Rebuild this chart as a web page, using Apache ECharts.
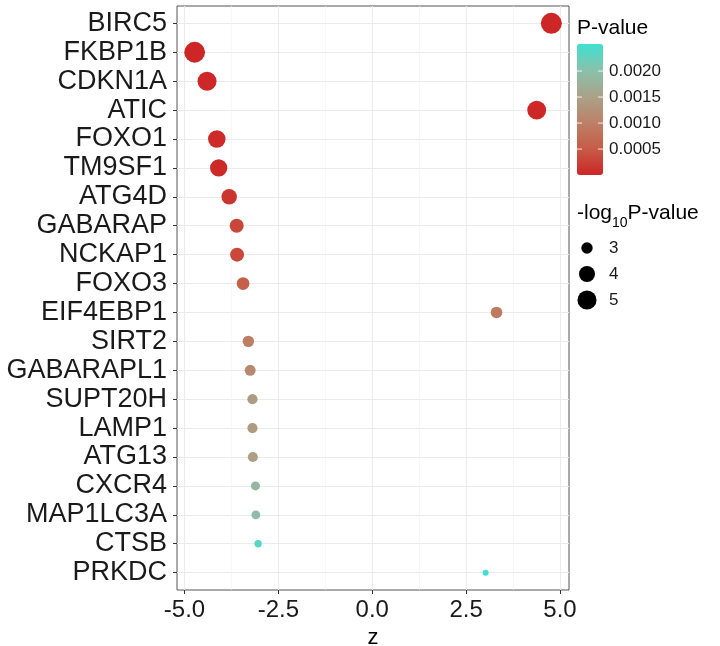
<!DOCTYPE html>
<html>
<head>
<meta charset="utf-8">
<script src="https://cdn.jsdelivr.net/npm/echarts@6/dist/echarts.min.js"></script>
<style>html,body{margin:0;padding:0;background:#fff}#c{width:720px;height:646px}</style>
</head>
<body>
<div id="c"></div>
<script>
const genes = ['BIRC5','FKBP1B','CDKN1A','ATIC','FOXO1','TM9SF1','ATG4D','GABARAP','NCKAP1','FOXO3','EIF4EBP1','SIRT2','GABARAPL1','SUPT20H','LAMP1','ATG13','CXCR4','MAP1LC3A','CTSB','PRKDC'];
const zScores = [4.77,-4.73,-4.40,4.38,-4.14,-4.09,-3.81,-3.61,-3.60,-3.44,3.31,-3.30,-3.25,-3.19,-3.19,-3.18,-3.11,-3.10,-3.04,3.02];
const pValues = [1.8e-6,2.2e-6,1.1e-5,1.2e-5,3.5e-5,4.3e-5,1.4e-4,3.1e-4,3.2e-4,5.8e-4,9.3e-4,9.7e-4,1.15e-3,1.42e-3,1.42e-3,1.47e-3,1.87e-3,1.94e-3,2.37e-3,2.52e-3];
const xTicks = [-5, -2.5, 0, 2.5, 5];
const xMinorTicks = [-3.75, -1.25, 1.25, 3.75];
const colorTicks = [0.0005, 0.0010, 0.0015, 0.0020];
const colorTickLabels = ['0.0005', '0.0010', '0.0015', '0.0020'];
const sizeBreaks = [3, 4, 5];

const FONT = "'Liberation Sans', Arial, Helvetica, sans-serif";
const GRID = {left: 177, top: 6, width: 392, height: 584};
const idx = genes.map((g, i) => i);
const nlp = pValues.map(p => -Math.log10(p));
const vMin = Math.min(...nlp), vMax = Math.max(...nlp);
// ggplot-like area size scale, diameter in px
function diam(v) {
  const t = Math.max(0, Math.min(1, (v - vMin) / (vMax - vMin)));
  const s = 1 + 5 * Math.sqrt(t);
  return 3 + 3 * s;
}
const pMin = Math.min(...pValues), pMax = Math.max(...pValues);
const data = genes.map((g, i) => [zScores[i], i, pValues[i]]);

const CB = {left: 577, top: 44, w: 26, h: 131};
const graphics = [];
graphics.push({type: 'text', left: 577, top: 18, style: {text: 'P-value', font: '21px ' + FONT, fill: '#000'}});
colorTicks.forEach((v, k) => {
  const y = CB.top + CB.h * (1 - (v - pMin) / (pMax - pMin));
  graphics.push({type: 'line', shape: {x1: CB.left, y1: y, x2: CB.left + 5, y2: y}, style: {stroke: 'rgba(255,255,255,0.85)', lineWidth: 1}, z: 100});
  graphics.push({type: 'line', shape: {x1: CB.left + CB.w - 5, y1: y, x2: CB.left + CB.w, y2: y}, style: {stroke: 'rgba(255,255,255,0.85)', lineWidth: 1}, z: 100});
  graphics.push({type: 'text', x: 609, y: y, style: {text: colorTickLabels[k], font: '17px ' + FONT, fill: '#1a1a1a', verticalAlign: 'middle'}});
});
graphics.push({type: 'text', x: 577, y: 213, style: {
  text: '{a|-log}{s|10}{a|P-value}',
  verticalAlign: 'middle',
  rich: {a: {font: '21px ' + FONT, fill: '#000', lineHeight: 26, verticalAlign: 'middle'},
         s: {font: '14px ' + FONT, fill: '#000', lineHeight: 34, verticalAlign: 'bottom'}}
}});
sizeBreaks.forEach((b, k) => {
  const cy = 248 + k * 26;
  graphics.push({type: 'circle', shape: {cx: 587, cy: cy, r: diam(b) / 2}, style: {fill: '#000'}});
  graphics.push({type: 'text', x: 609, y: cy, style: {text: String(b), font: '17px ' + FONT, fill: '#1a1a1a', verticalAlign: 'middle'}});
});

const option = {
  backgroundColor: '#fff',
  animation: false,
  grid: Object.assign({show: true, borderColor: '#555', borderWidth: 1, containLabel: false, outerBoundsMode: 'none'}, GRID),
  xAxis: [{
    type: 'value', min: -5.2, max: 5.24,
    name: 'z', nameLocation: 'middle', nameGap: 30,
    nameTextStyle: {fontFamily: FONT, fontSize: 22, color: '#000'},
    axisLine: {show: false, onZero: false},
    axisTick: {show: true, inside: false, length: 4, lineStyle: {color: '#333'}, customValues: xTicks},
    axisLabel: {fontFamily: FONT, fontSize: 24, color: '#1a1a1a', margin: 8, customValues: xTicks,
      formatter: v => v.toFixed(1)},
    splitLine: {show: true, lineStyle: {color: '#ebebeb', width: 1.1}}
  }, {
    type: 'value', min: -5.2, max: 5.24, position: 'bottom',
    axisLine: {show: false, onZero: false},
    axisTick: {show: false, customValues: xMinorTicks},
    axisLabel: {show: false, customValues: xMinorTicks},
    splitLine: {show: true, lineStyle: {color: '#f2f2f2', width: 0.6}}
  }],
  yAxis: {
    type: 'value', inverse: true, min: -0.6, max: 19.6,
    axisLine: {show: false, onZero: false},
    axisTick: {show: true, inside: false, length: 4, lineStyle: {color: '#333'}, customValues: idx},
    axisLabel: {fontFamily: FONT, fontSize: 27, color: '#1a1a1a', margin: 10, customValues: idx,
      formatter: v => genes[Math.round(v)]},
    splitLine: {show: true, lineStyle: {color: '#ebebeb', width: 1.1}}
  },
  visualMap: {
    type: 'continuous', dimension: 2, min: pMin, max: pMax,
    seriesIndex: 0, calculable: false, hoverLink: false,
    left: CB.left, top: CB.top, itemWidth: CB.w, itemHeight: CB.h, padding: 0,
    inRange: {color: ['#CD2626', '#C65C46', '#BC8167', '#AAA288', '#89C1AB', '#40E0D0']},
    textStyle: {color: 'transparent'}
  },
  series: [{
    type: 'scatter', xAxisIndex: 0, yAxisIndex: 0,
    data: data,
    symbol: 'circle',
    symbolSize: val => diam(-Math.log10(val[2])),
    itemStyle: {opacity: 1},
    z: 5
  }],
  graphic: graphics
};
const chart = echarts.init(document.getElementById('c'), null, {renderer: 'canvas'});
chart.setOption(option);
</script>
</body>
</html>
